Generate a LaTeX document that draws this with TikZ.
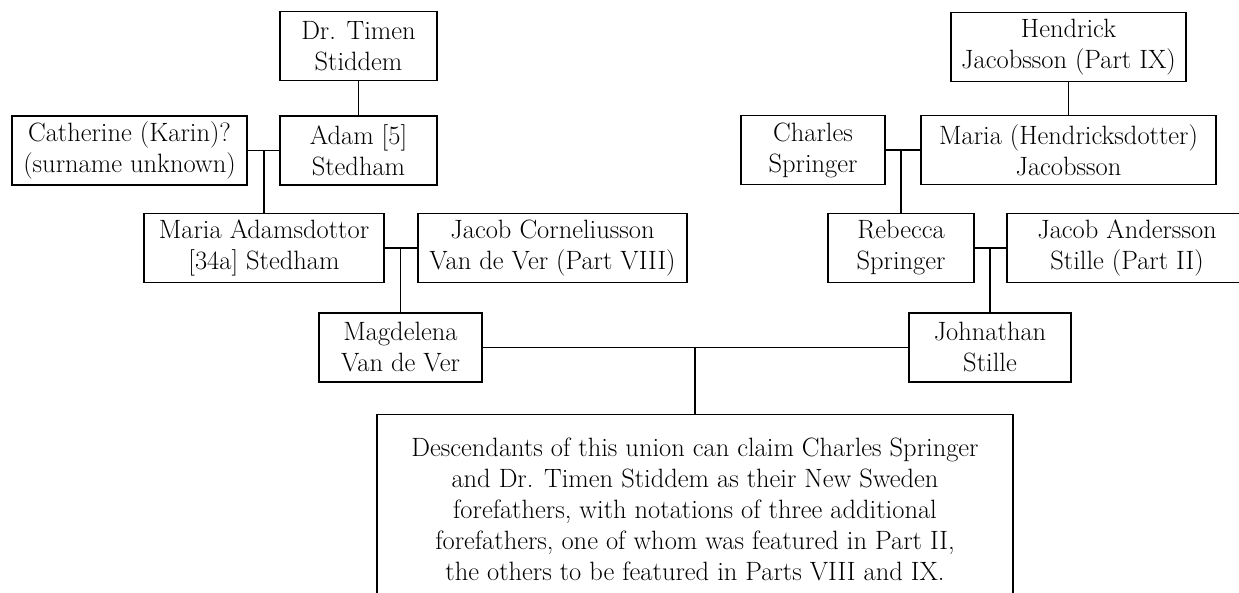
\documentclass[tikz,border=0pt]{standalone}
\usepackage{amsmath}
\usepackage{tikz}
\usetikzlibrary{calc}
\usepackage{xcolor}

\newcommand{\famfont}{\fontsize{26.5}{31}\selectfont}
\tikzset{person/.style={draw,line width=1.1pt,align=center,inner sep=0pt,minimum height=69pt,font=\famfont},
         tie/.style={line width=1.1pt}}

\begin{document}
\begin{tikzpicture}[x=1pt,y=-1pt]
\useasboundingbox (0,0) rectangle (1239,593);

  \node[person,minimum width=157pt] (timen) at (358.5,46) {Dr. Timen\\Stiddem};
  \node[person,minimum width=235pt] (hendrick) at (1068.5,47) {Hendrick\\Jacobsson (Part IX)};

  \node[person,minimum width=235pt] (cath) at (129.5,150.5) {Catherine (Karin)?\\(surname unknown)};
  \node[person,minimum width=157pt] (adam) at (358.5,150.5) {Adam [5]\\Stedham};
  \node[person,minimum width=144pt] (charles) at (813,150) {Charles\\Springer};
  \node[person,minimum width=295pt] (mariah) at (1068.5,150) {Maria (Hendricksdotter)\\Jacobsson};

   \node[person,minimum width=240pt] (mariaa) at (264,248) {Maria Adamsdottor\\{[34a]} Stedham};
   \node[person,minimum width=269pt] (jacobc) at (552.5,248) {Jacob Corneliusson\\Van de Ver (Part VIII)};
   \node[person,minimum width=146pt] (rebecca) at (901,248) {Rebecca\\Springer};
   \node[person,minimum width=240pt] (jacoba) at (1127,248) {Jacob Andersson\\Stille (Part II)};

  \node[person,minimum width=163pt] (magda) at (400.5,347.5) {Magdelena\\Van de Ver};
  \node[person,minimum width=162pt] (john) at (990,347.5) {Johnathan\\Stille};

  \node[person,anchor=north,minimum width=636pt,minimum height=190pt] (union) at (695,414) {Descendants of this union can claim Charles Springer\\and Dr. Timen Stiddem as their New Sweden\\forefathers, with notations of three additional\\forefathers, one of whom was featured in Part II,\\the others to be featured in Parts VIII and IX.};

\draw[tie] (timen) -- (adam);
\draw[tie] (hendrick) -- (mariah);
\draw[tie] (cath) -- (adam);
\draw[tie] (charles) -- (mariah);
\draw[tie] (mariaa.north) -- (mariaa.north |- cath.east);
\draw[tie] (rebecca.north) -- (rebecca.north |- charles.east);
\draw[tie] (mariaa) -- (jacobc);
\draw[tie] (rebecca) -- (jacoba);
\draw[tie] (magda.north) -- (magda.north |- mariaa.east);
\draw[tie] (john.north) -- (john.north |- rebecca.east);
\draw[tie] (magda) -- (john);
\draw[tie] (union.north) -- (union.north |- magda.east);

\end{tikzpicture}
\end{document}
